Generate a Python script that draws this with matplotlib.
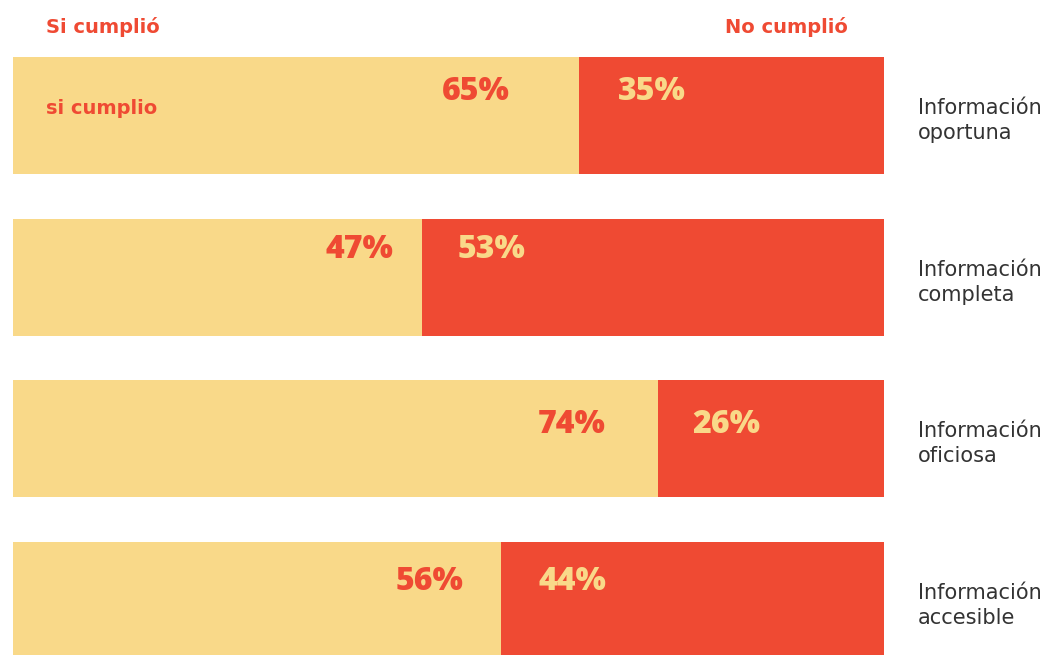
import matplotlib
matplotlib.use('Agg')
import matplotlib.pyplot as plt

# data
categories = ['Información\noportuna', 'Información\ncompleta',
              'Información\noficiosa', 'Información\naccesible']
si_cumplio = [65, 47, 74, 56]
no_cumplio = [35, 53, 26, 44]

YELLOW = '#F9D989'
RED = '#EF4A33'
GREY = '#333333'

# label nudges (pixels): left label gap from split, vertical shift from bar centre
left_gap = [69, 29, 52, 37]
right_gap = [39, 35, 35, 38]
label_dy = [-23, -27, -14, -19]

W, H = 1056, 655
fig = plt.figure(figsize=(W / 100, H / 100), dpi=100)
# axes spans bar area horizontally, full height vertically
ax = fig.add_axes([13 / W, 0, 871 / W, 1])
ax.set_xlim(0, 100)
step = 161.7
ax.set_ylim((H - 115.5) / step, -115.5 / step)
ax.axis('off')

pos = list(range(len(categories)))
ax.barh(pos, si_cumplio, height=117 / step, color=YELLOW)
ax.barh(pos, no_cumplio, left=si_cumplio, height=117 / step, color=RED)

px = 100 / 871  # data units per pixel in x
py = 1 / step

pct_font = dict(fontsize=23, fontweight='heavy', family='Open Sans')
for i in pos:
    split = si_cumplio[i]
    y = i + label_dy[i] * py
    ax.text(split - left_gap[i] * px, y, f'{si_cumplio[i]}%', ha='right',
            va='center', color=RED, **pct_font)
    ax.text(split + right_gap[i] * px, y, f'{no_cumplio[i]}%', ha='left',
            va='center', color=YELLOW, **pct_font)
    ax.text(100 + 34 * px, i + 5 * py, categories[i], ha='left', va='center',
            color=GREY, fontsize=15, family='DejaVu Sans', linespacing=1.3,
            clip_on=False)

head = dict(fontsize=14, fontweight='semibold', family='DejaVu Sans', color=RED)
fig.text(46 / W, 1 - 27 / H, 'Si cumplió', ha='left', va='center', **head)
fig.text(848 / W, 1 - 27 / H, 'No cumplió', ha='right', va='center', **head)
fig.text(46 / W, 1 - 108 / H, 'si cumplio', ha='left', va='center', **head)

plt.savefig('out.png', dpi=100)
plt.close(fig)
